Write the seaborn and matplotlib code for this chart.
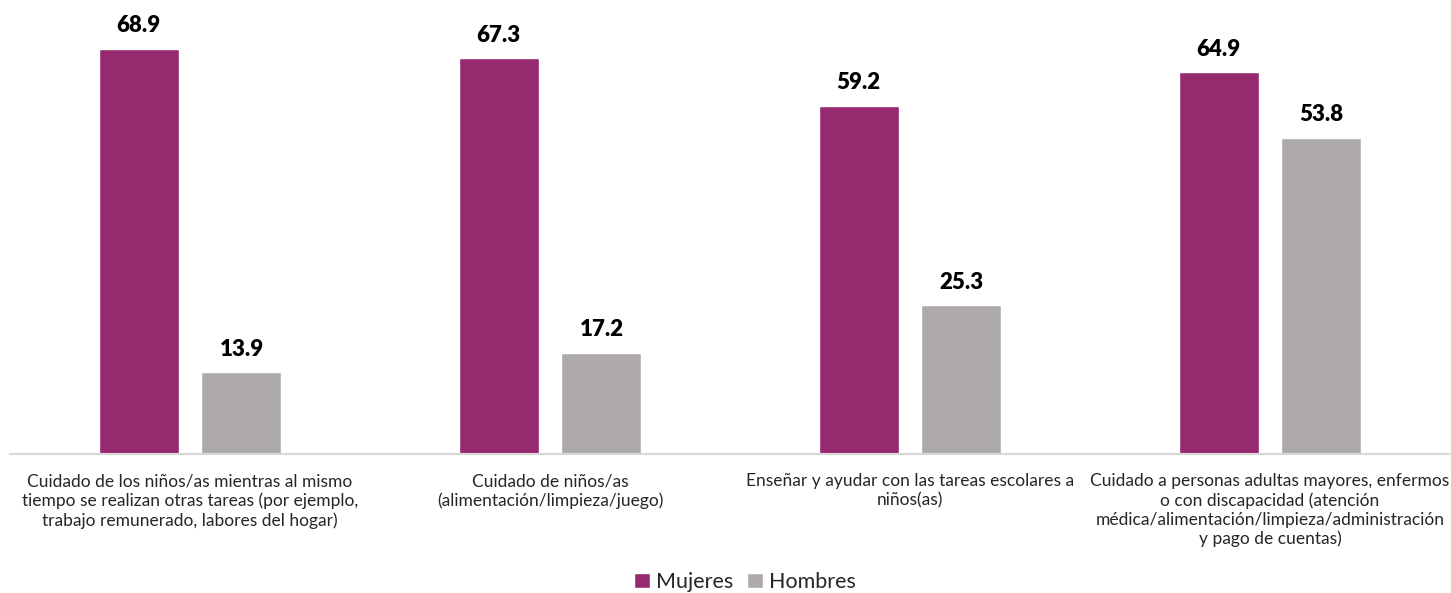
import matplotlib
matplotlib.use("Agg")
import matplotlib.pyplot as plt
import seaborn as sns
import pandas as pd

categories = [
    "Cuidado de los niños/as mientras al mismo\ntiempo se realizan otras tareas (por ejemplo,\ntrabajo remunerado, labores del hogar)",
    "Cuidado de niños/as\n(alimentación/limpieza/juego)",
    "Enseñar y ayudar con las tareas escolares a\nniños(as)",
    "Cuidado a personas adultas mayores, enfermos\no con discapacidad (atención\nmédica/alimentación/limpieza/administración\ny pago de cuentas)",
]
mujeres = [68.9, 67.3, 59.2, 64.9]
hombres = [13.9, 17.2, 25.3, 53.8]
series = ["Mujeres", "Hombres"]
colors = ["#952a6f", "#aeaaaa"]

df = pd.DataFrame({
    "cat": categories * 2,
    "val": mujeres + hombres,
    "serie": [series[0]] * 4 + [series[1]] * 4,
})

sns.set_theme(style="white")
plt.rcParams["font.family"] = ["Lato", "DejaVu Sans"]

fig = plt.figure(figsize=(14.51, 5.93), dpi=100)
ax = fig.add_axes([10 / 1451, 1 - 454 / 593, 1440 / 1451, 454 / 593])

sns.barplot(data=df, x="cat", y="val", hue="serie", palette=colors,
            width=0.572, gap=0.223, ax=ax, legend=False, saturation=1)

for c in ax.containers:
    ax.bar_label(c, fmt="%.1f", padding=9, fontsize=16, fontweight="heavy", color="black")

ax.set_xlim(-0.5, 3.5)
ax.set_ylim(0, 77.2)
ax.set_yticks([])
ax.set_xlabel("")
ax.set_ylabel("")
for s in ["left", "right", "top"]:
    ax.spines[s].set_visible(False)
ax.spines["bottom"].set_color("#d9d9d9")
ax.spines["bottom"].set_linewidth(1.5)
ax.tick_params(axis="x", length=0, pad=14, labelsize=12.5, colors="#262626")
for t in ax.get_xticklabels():
    t.set_linespacing(1.22)
    t.set_horizontalalignment("center")

from matplotlib.patches import Patch
handles = [Patch(facecolor=colors[i], label=series[i]) for i in range(2)]
fig.legend(handles=handles, loc="center", bbox_to_anchor=(745 / 1451, 1 - 582 / 593),
           ncol=2, frameon=False, fontsize=15.5, handlelength=0.75, handleheight=0.75,
           handletextpad=0.3, columnspacing=0.6, labelcolor="#262626")

fig.savefig("out.png", dpi=100)
